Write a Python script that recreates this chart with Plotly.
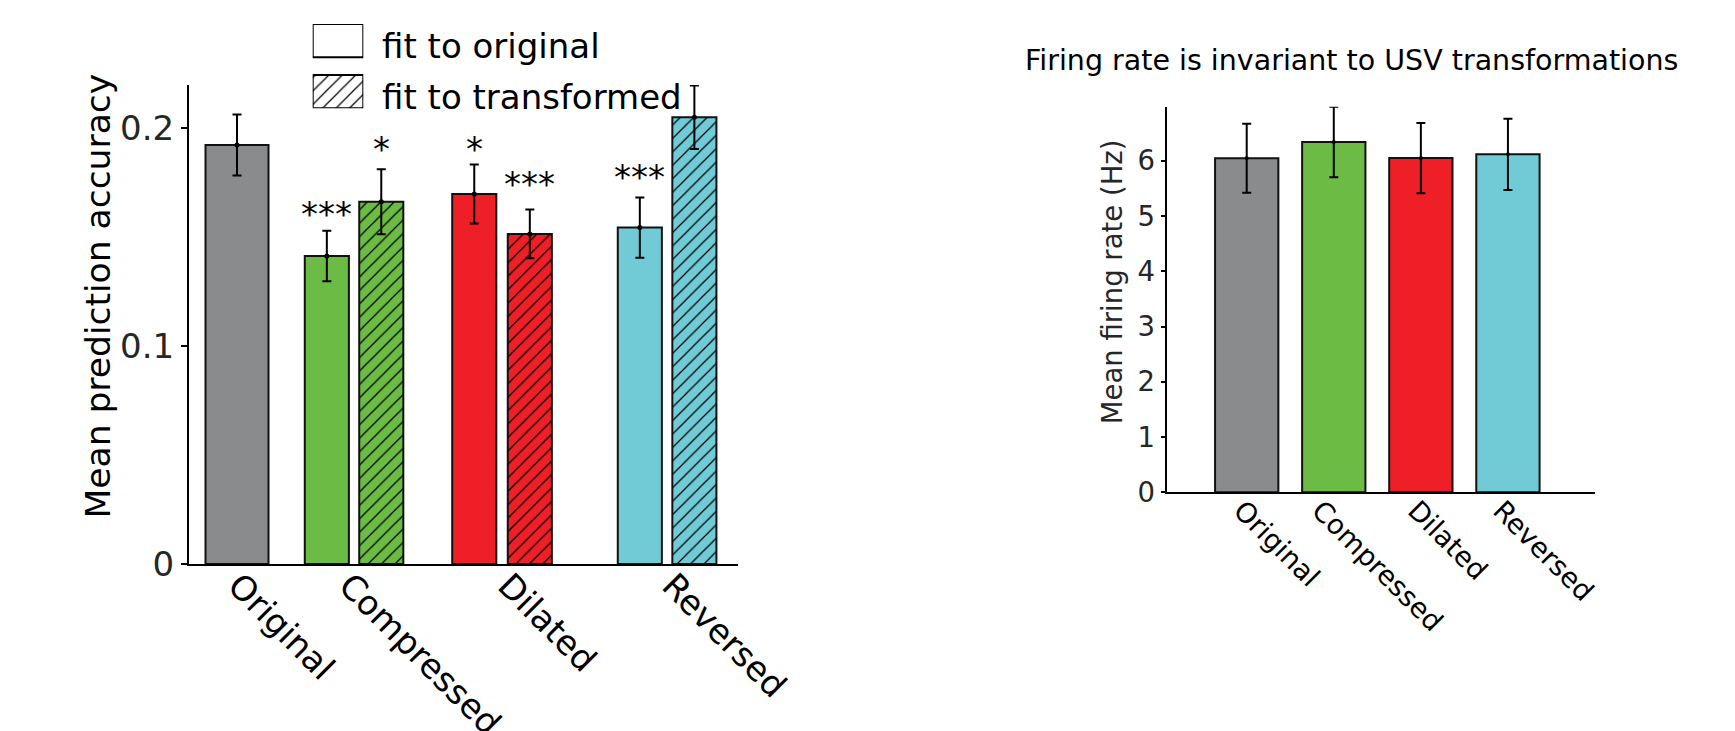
import plotly.graph_objects as go

W, H = 1735, 731
FONT = "DejaVu Sans"

GREY = "#8a8b8d"
GREEN = "#6bbb44"
RED = "#ee1f27"
CYAN = "#71cbd6"

# ---- left panel: prediction accuracy -------------------------------------
groups = ["Original", "Compressed", "Dilated", "Reversed"]
group_tick_x = [0.024, 0.905, 2.167, 3.47]

fit_orig_x = [0.0, 0.713, 1.883, 3.197]
fit_orig_width = [0.5, 0.35, 0.35, 0.35]
fit_orig_mean = [0.1922, 0.1413, 0.1697, 0.1543]
fit_orig_sem = [0.0140, 0.0116, 0.0135, 0.0138]
fit_orig_colors = [GREY, GREEN, RED, CYAN]

fit_trans_x = [1.145, 2.324, 3.630]
fit_trans_width = [0.35, 0.35, 0.35]
fit_trans_mean = [0.1662, 0.1514, 0.2049]
fit_trans_sem = [0.0149, 0.0112, 0.0146]
fit_trans_colors = [GREEN, RED, CYAN]

sig_x = [0.713, 1.145, 1.883, 2.324, 3.197]
sig_y = [0.1639, 0.1937, 0.1937, 0.1774, 0.1807]
sig_text = ["***", "*", "*", "***", "***"]

acc_ticks = [0, 0.1, 0.2]
acc_ticktext = ["0", "0.1", "0.2"]

# ---- right panel: firing rate --------------------------------------------
rate_x = [0, 1, 2, 3]
rate_tick_x = [0, 0.9, 2, 2.98]
rate_mean = [6.043, 6.338, 6.048, 6.115]
rate_sem = [0.625, 0.639, 0.636, 0.645]
rate_colors = [GREY, GREEN, RED, CYAN]
rate_ticks = [0, 1, 2, 3, 4, 5, 6]

legend_labels = ["fit to original", "fit to transformed"]

fig = go.Figure()

edge = dict(color="#111111", width=2)
hatch = dict(shape="/", fillmode="overlay", fgcolor="black", fgopacity=1,
             size=9.5, solidity=0.13)

fig.add_trace(go.Bar(
    x=fit_orig_x, y=fit_orig_mean, width=fit_orig_width,
    marker=dict(color=fit_orig_colors, line=edge),
    xaxis="x", yaxis="y", showlegend=False, hoverinfo="skip"))

# one trace per hatched bar so every hatch keeps black strokes
for bx, by, bw, bc in zip(fit_trans_x, fit_trans_mean, fit_trans_width,
                          fit_trans_colors):
    fig.add_trace(go.Bar(
        x=[bx], y=[by], width=[bw],
        marker=dict(color=bc, line=edge, pattern=hatch),
        xaxis="x", yaxis="y", showlegend=False, hoverinfo="skip"))

err_style = dict(type="data", color="black", thickness=2, width=4.5)
fig.add_trace(go.Scatter(
    x=fit_orig_x + fit_trans_x, y=fit_orig_mean + fit_trans_mean,
    error_y=dict(array=fit_orig_sem + fit_trans_sem, **err_style),
    mode="markers", marker=dict(color="black", size=5),
    xaxis="x", yaxis="y", showlegend=False, hoverinfo="skip"))

fig.add_trace(go.Bar(
    x=rate_x, y=rate_mean, width=0.727,
    marker=dict(color=rate_colors, line=edge),
    xaxis="x2", yaxis="y2", showlegend=False, hoverinfo="skip"))
fig.add_trace(go.Scatter(
    x=rate_x, y=rate_mean,
    error_y=dict(array=rate_sem, **err_style),
    mode="markers", marker=dict(color="black", size=4),
    xaxis="x2", yaxis="y2", showlegend=False, hoverinfo="skip"))

# legend patches drawn as bars on a hidden axis
fig.add_trace(go.Bar(
    x=[1], y=[0], orientation="h", width=0.653,
    marker=dict(color="white", line=dict(color="black", width=2)),
    xaxis="x3", yaxis="y3", showlegend=False, hoverinfo="skip"))
fig.add_trace(go.Bar(
    x=[1], y=[1], orientation="h", width=0.653,
    marker=dict(color="white", line=dict(color="black", width=2),
                pattern=hatch),
    xaxis="x3", yaxis="y3", showlegend=False, hoverinfo="skip"))


def px_x(p):
    return p / W


def px_y(p):
    return 1 - p / H


axis_common = dict(showgrid=False, zeroline=False, showline=True,
                   linecolor="black", mirror=False, automargin=False)

fig.update_layout(
    width=W, height=H,
    margin=dict(l=0, r=0, t=0, b=0, pad=0, autoexpand=False),
    paper_bgcolor="white", plot_bgcolor="white",
    barmode="overlay", showlegend=False,
    font=dict(family=FONT, color="#262626"),
    xaxis=dict(domain=[px_x(188.7), px_x(737.7)], range=[-0.3833, 3.9738],
               tickvals=group_tick_x, ticktext=groups, tickangle=45,
               ticks="", tickfont=dict(size=34, color="black"),
               ticklabelstandoff=-14, ticklabelshift=-2,
               linewidth=2, anchor="y", **axis_common),
    yaxis=dict(domain=[px_y(564), px_y(85)], range=[0, 0.2197],
               tickvals=acc_ticks, ticktext=acc_ticktext,
               ticks="outside", ticklen=6, tickwidth=1.5, tickcolor="black",
               tickfont=dict(size=34, color="#262626"),
               linewidth=1.5, anchor="x", **axis_common),
    xaxis2=dict(domain=[px_x(1167.3), px_x(1595)], range=[-0.912, 4.0],
                tickvals=rate_tick_x, ticktext=groups, tickangle=45,
                ticks="", tickfont=dict(size=27.5, color="black"),
                ticklabelstandoff=-11, ticklabelshift=-5,
                linewidth=2, anchor="y2", **axis_common),
    yaxis2=dict(domain=[px_y(492.3), px_y(106.7)], range=[0, 6.977],
                tickvals=rate_ticks,
                ticks="outside", ticklen=5, tickwidth=1.5, tickcolor="black",
                tickfont=dict(size=27.5, color="#262626"),
                linewidth=1.5, anchor="x2", **axis_common),
    xaxis3=dict(domain=[px_x(312.7), px_x(363.3)], range=[0, 1],
                visible=False, fixedrange=True, automargin=False),
    yaxis3=dict(domain=[px_y(108.3), px_y(24)], range=[1.3265, -0.3265],
                visible=False, fixedrange=True, anchor="x3",
                automargin=False),
)

annotations = []
for x, y, t in zip(sig_x, sig_y, sig_text):
    annotations.append(dict(x=x, y=y, xref="x", yref="y", text=t,
                            showarrow=False, xanchor="center",
                            yanchor="middle", yshift=-7,
                            font=dict(size=34, color="black")))

for i, label in enumerate(legend_labels):
    annotations.append(dict(x=px_x(379.7), y=px_y(45.5 + 51.5 * i),
                            xref="paper", yref="paper", text=label,
                            showarrow=False, xanchor="left", yanchor="middle",
                            font=dict(size=34, color="black")))

annotations.append(dict(x=px_x(97.5), y=px_y(296), xref="paper", yref="paper",
                        text="Mean prediction accuracy", textangle=-90,
                        showarrow=False, xanchor="center", yanchor="middle",
                        font=dict(size=34.5, color="black")))
annotations.append(dict(x=px_x(1111.7), y=px_y(281.5), xref="paper",
                        yref="paper", text="Mean firing rate (Hz)",
                        textangle=-90, showarrow=False, xanchor="center",
                        yanchor="middle",
                        font=dict(size=27.5, color="#262626")))
annotations.append(dict(x=px_x(1351.7), y=px_y(60), xref="paper",
                        yref="paper",
                        text="Firing rate is invariant to USV transformations",
                        showarrow=False, xanchor="center", yanchor="middle",
                        font=dict(size=28.5, color="black")))

fig.update_layout(annotations=annotations)

fig.write_html("out.html")
